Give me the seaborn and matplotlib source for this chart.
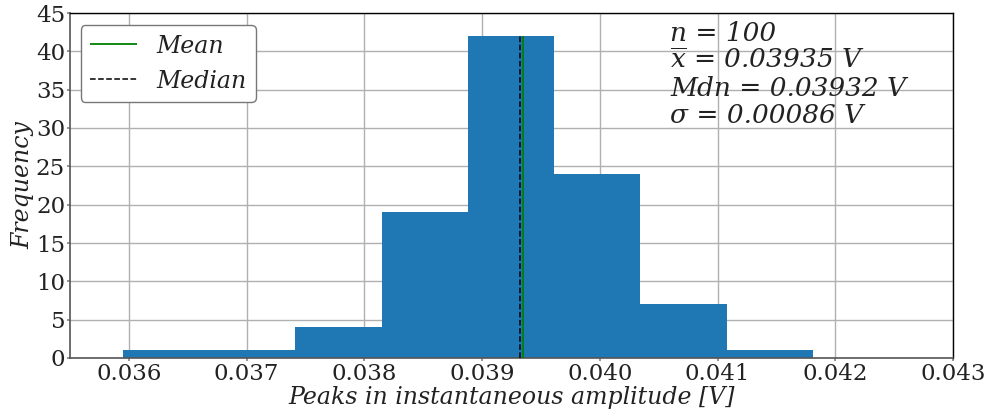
import numpy as np
import pandas as pd
import seaborn as sns
import matplotlib
matplotlib.use("Agg")
import matplotlib.pyplot as plt

# Histogram of peak amplitudes: bin edges and counts per bin
bin_edges = [0.035949, 0.036682, 0.037414, 0.038147, 0.038879,
             0.039612, 0.040345, 0.041077, 0.041810]
bin_counts = [1, 1, 4, 19, 42, 24, 7, 1]

n_samples = 100
mean_v = 0.03935
median_v = 0.03932
std_v = 0.00086

x_ticks = [0.036, 0.037, 0.038, 0.039, 0.040, 0.041, 0.042, 0.043]
y_ticks = [0, 5, 10, 15, 20, 25, 30, 35, 40, 45]

sns.set_theme(style="whitegrid")
plt.rcParams["font.family"] = ["DejaVu Serif"]
plt.rcParams["mathtext.fontset"] = "dejavuserif"

edges = np.array(bin_edges)
centers = (edges[:-1] + edges[1:]) / 2
df = pd.DataFrame({"amp": centers, "count": np.array(bin_counts, dtype=float)})

fig = plt.figure(figsize=(9.91, 4.16), dpi=100)
ax = fig.add_axes([70 / 991, 1 - 358 / 416, (953 - 70) / 991, (358 - 13) / 416])

sns.histplot(data=df, x="amp", weights="count", bins=list(bin_edges), ax=ax,
             color="#1f77b4", alpha=1.0, edgecolor="none", linewidth=0)

ax.vlines(mean_v, 0, max(bin_counts), color="green", lw=1.3, label="Mean", zorder=3)
ax.vlines(median_v, 0, max(bin_counts), color="black", lw=1.1, ls="--",
          label="Median", zorder=3)

ax.set_xlim(0.0355, 0.043)
ax.set_ylim(0, 45)
ax.set_xticks(x_ticks)
ax.set_xticklabels([f"{t:.3f}" for t in x_ticks])
ax.set_yticks(y_ticks)
ax.tick_params(axis="both", labelsize=16.5, colors="#222222", length=2.5, pad=1,
               direction="out", bottom=True, left=True, color="#888888")

ax.grid(True, color="#b0b0b0", lw=1.0)
ax.set_axisbelow(True)
for side in ["top", "right"]:
    ax.spines[side].set_color("black")
    ax.spines[side].set_linewidth(1.0)
for side in ["left", "bottom"]:
    ax.spines[side].set_color("#555555")
    ax.spines[side].set_linewidth(1.2)

ax.set_xlabel("Peaks in instantaneous amplitude [V]", fontsize=17,
              style="italic", color="#222222", labelpad=1)
ax.set_ylabel("Frequency", fontsize=17, style="italic", color="#222222",
              labelpad=1)

leg = ax.legend(loc="upper left", frameon=True,
                prop={"style": "italic", "size": 17},
                bbox_to_anchor=(0.004, 0.985), borderaxespad=0.3)
leg.get_frame().set_edgecolor("#777777")
leg.get_frame().set_facecolor("white")
leg.get_frame().set_alpha(1.0)
for t in leg.get_texts():
    t.set_color("#222222")

# Summary statistics, one line each
stat_lines = [
    f"n = {n_samples}",
    rf"$\overline{{x}}$ = {mean_v:.5f} V",
    f"Mdn = {median_v:.5f} V",
    f"σ = {std_v:.5f} V",
]
stat_y = [0.919, 0.841, 0.758, 0.680]
for line, yy in zip(stat_lines, stat_y):
    ax.text(0.680, yy, line, transform=ax.transAxes, ha="left", va="baseline",
            fontsize=19, style="italic", color="#222222")

fig.savefig("out.png", dpi=100)
